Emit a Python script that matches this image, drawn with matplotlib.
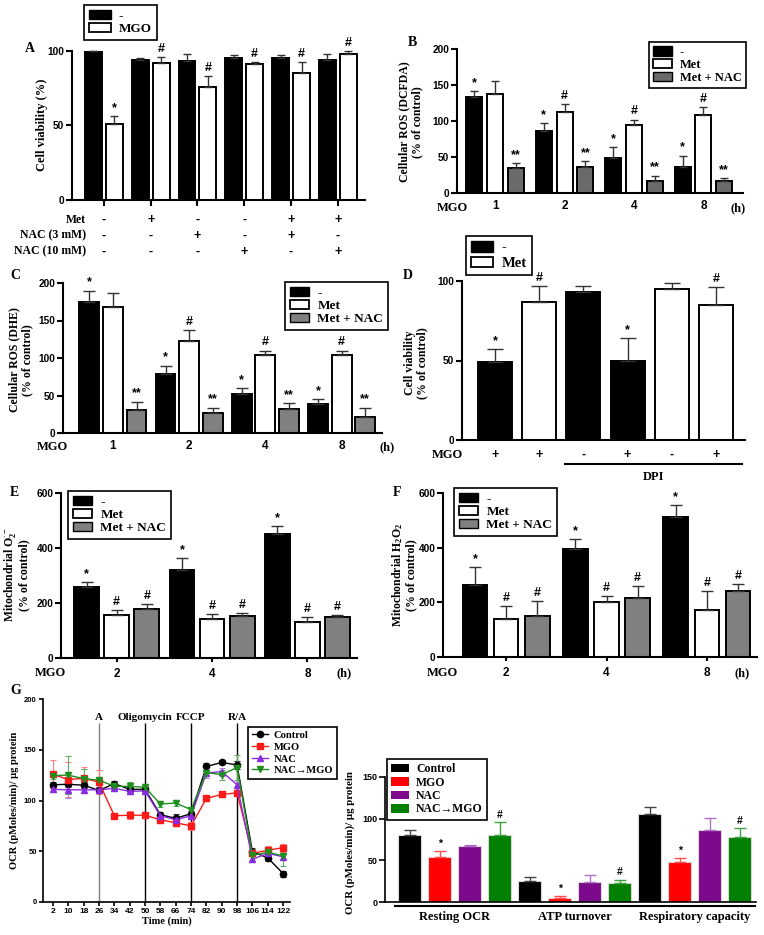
import numpy as np
import matplotlib
matplotlib.use('Agg')
import matplotlib.pyplot as plt
from matplotlib.patches import Patch
from matplotlib.lines import Line2D
import matplotlib.transforms as mtrans

SERIF = ['Liberation Serif', 'DejaVu Serif']
SANS = ['Liberation Sans', 'DejaVu Sans']
plt.rcParams['font.family'] = SERIF
plt.rcParams['font.weight'] = 'bold'
plt.rcParams['mathtext.fontset'] = 'custom'
plt.rcParams['mathtext.rm'] = 'Liberation Serif:bold'
plt.rcParams['mathtext.it'] = 'Liberation Serif:bold:italic'
plt.rcParams['mathtext.bf'] = 'Liberation Serif:bold'

# ---------------- data ----------------
# Panel A
a_ctrl = [100, 94, 93, 95, 95, 93.5]
a_ctrl_err = [0, 1, 4.5, 2, 2, 4.5]
a_mgo = [51, 92, 76, 91, 85, 98]
a_mgo_err = [5, 4, 7, 1.5, 7.5, 1.5]
a_mgo_sig = ['*', '#', '#', '#', '#', '#']
a_met = ['-', '+', '-', '-', '+', '+']
a_nac3 = ['-', '-', '+', '-', '+', '-']
a_nac10 = ['-', '-', '-', '+', '-', '+']

# Panel B
b_hours = ['1', '2', '4', '8']
b_ctrl = [134, 86, 49, 36]
b_ctrl_err = [8, 11, 15, 16]
b_met = [138, 112, 94, 109]
b_met_err = [17, 12, 8, 10]
b_nac = [35, 36, 16, 17]
b_nac_err = [6, 8, 8, 4]
b_sig_ctrl = ['*', '*', '*', '*']
b_sig_met = ['', '#', '#', '#']
b_sig_nac = ['**', '**', '**', '**']

# Panel C
c_hours = ['1', '2', '4', '8']
c_ctrl = [175, 79, 52, 39]
c_ctrl_err = [15, 11, 8, 6]
c_met = [168, 123, 104, 104]
c_met_err = [19, 14, 6, 6]
c_nac = [31, 27, 32, 22]
c_nac_err = [11, 7, 8, 12]
c_sig_ctrl = ['*', '*', '*', '*']
c_sig_met = ['', '#', '#', '#']
c_sig_nac = ['**', '**', '**', '**']

# Panel D
d_vals = [49, 87, 93, 50, 95, 85]
d_err = [8, 10, 4, 14, 4, 11]
d_is_met = [False, True, False, False, True, True]
d_mgo = ['+', '+', '-', '+', '-', '+']
d_sig = ['*', '#', '', '*', '', '#']

# Panel E
e_hours = ['2', '4', '8']
e_ctrl = [259, 319, 451]
e_ctrl_err = [16, 44, 29]
e_met = [157, 143, 131]
e_met_err = [17, 17, 17]
e_nac = [177, 152, 150]
e_nac_err = [18, 10, 6]

# Panel F
f_hours = ['2', '4', '8']
f_ctrl = [263, 395, 511]
f_ctrl_err = [66, 37, 45]
f_met = [139, 202, 172]
f_met_err = [49, 22, 69]
f_nac = [151, 217, 243]
f_nac_err = [54, 44, 23]

# Panel G (time course)
g_time = [2, 10, 18, 26, 34, 42, 50, 58, 66, 74, 82, 90, 98, 106, 114, 122]
g_control = [115.5, 116, 115, 110, 116.5, 111, 111, 86, 82.5, 87, 133.5, 137.5, 135, 49.5, 43.5, 28]
g_control_err = [3, 3, 3, 3, 3, 3, 3, 3, 4, 3, 3, 2, 4, 4, 3, 3]
g_mgo = [126, 120.5, 122, 118, 85, 85.5, 85.5, 81, 78, 75, 102, 106, 107.5, 48, 51, 53.5]
g_mgo_err = [14, 17, 11, 12, 3, 4, 3, 3, 3, 4, 2, 3, 3, 3, 4, 4]
g_nac = [111, 110.5, 110.5, 110.5, 112, 109, 109.5, 85, 81, 85, 127, 128.5, 115.5, 42, 48, 44.5]
g_nac_err = [3, 8, 3, 3, 3, 3, 3, 3, 3, 3, 5, 4, 5, 3, 3, 3]
g_nacmgo = [124.5, 125, 121.5, 120, 114, 114, 113, 96.5, 97.5, 91, 127.5, 125.5, 132.5, 46, 49, 45.5]
g_nacmgo_err = [3, 19, 10, 3, 3, 4, 3, 3, 3, 3, 3, 5, 12, 6, 4, 10]
g_inject_time = [26, 50, 74, 98]
g_inject_label = ['A', 'Oligomycin', 'FCCP', 'R/A']

# Panel G (summary bars)
gb_groups = ['Resting OCR', 'ATP turnover', 'Respiratory capacity']
gb_series = ['Control', 'MGO', 'NAC', 'NAC\u2192MGO']
gb_vals = [[81, 53.5, 67, 80],
           [25, 5, 24, 22.5],
           [106, 48.5, 86.5, 78.5]]
gb_errs = [[5.5, 8, 1, 16.5],
           [5.5, 2.8, 9, 4.5],
           [8, 4, 14, 10.5]]
gb_sig = [['', '*', '', '#'],
          ['', '*', '', '#'],
          ['', '*', '', '#']]

# ---------------- figure ----------------
W, H = 764, 935
fig = plt.figure(figsize=(W / 100, H / 100), dpi=100)


def axpx(l, t, r, b):
    return fig.add_axes([l / W, 1 - b / H, (r - l) / W, (b - t) / H])


def style(ax, fs=7.3, lw=1.5, tl=4, xfs=None):
    for s in ['top', 'right']:
        ax.spines[s].set_visible(False)
    for s in ['left', 'bottom']:
        ax.spines[s].set_linewidth(lw)
    ax.tick_params(axis='both', direction='out', width=lw, length=tl, labelsize=fs, pad=1.5)
    if xfs:
        ax.tick_params(axis='x', labelsize=xfs)
    for lbl in ax.get_xticklabels() + ax.get_yticklabels():
        lbl.set_fontfamily(SANS)
        lbl.set_fontweight('bold')


def bars(ax, x, vals, errs, width, color, capsize, ecolor='#333333', sigs=None, sigfs=9, edge='black', elw=1.0, blw=1.4):
    ax.bar(x, vals, width, color=color, edgecolor=edge, linewidth=blw, zorder=2)
    ax.errorbar(x, vals, yerr=[np.zeros(len(vals)), errs], fmt='none', ecolor=ecolor,
                elinewidth=elw, capsize=capsize, capthick=elw, zorder=3, clip_on=False)
    if sigs is not None:
        for xi, v, e, s in zip(x, vals, errs, sigs):
            if s:
                ax.annotate(s, (xi, v + e), xytext=(0, 1.5), textcoords='offset points',
                            ha='center', va='bottom', fontsize=sigfs, fontfamily=SANS,
                            fontweight='bold', annotation_clip=False)


def legend(ax, handles, labels, x, y, fs=7.5, ls=0.05, hl=1.5):
    lg = ax.legend(handles, labels, loc='upper left', bbox_to_anchor=(x / W, 1 - y / H),
                   bbox_transform=fig.transFigure, borderaxespad=0, fancybox=False,
                   framealpha=1, edgecolor='black', prop={'family': SERIF, 'weight': 'bold', 'size': fs},
                   handlelength=hl, handleheight=0.75, handletextpad=0.6, labelspacing=ls,
                   borderpad=0.35)
    lg.get_frame().set_linewidth(1.2)
    return lg


def letter(txt, x, y):
    fig.text(x / W, 1 - y / H, txt, fontsize=10, fontweight='bold', family=SERIF, ha='left', va='center')


def ylab(txt, x, y, fs=8.5, ls=1.05):
    fig.text(x / W, 1 - y / H, txt, rotation=90, fontsize=fs, fontweight='bold', family=SERIF,
             ha='center', va='center', multialignment='center', linespacing=ls)


def hour_axis(ax, labels, x_mgo, x_h, ylev):
    tr = mtrans.blended_transform_factory(ax.transData, ax.transAxes)
    ax.set_xticks(np.arange(len(labels)), labels)
    ax.text(x_mgo, ylev, 'MGO', transform=tr, ha='center', va='center', fontsize=9, fontweight='bold', family=SERIF)
    ax.text(x_h, ylev, '(h)', transform=tr, ha='center', va='center', fontsize=9, fontweight='bold', family=SERIF)


BLACK, WHITE = 'black', 'white'
GRAY_B = '#6a6a6a'
GRAY = '#808080'


def three_handles(gray):
    return [Patch(facecolor=BLACK, edgecolor='black'), Patch(facecolor=WHITE, edgecolor='black', linewidth=1.3),
            Patch(facecolor=gray, edgecolor='black')]


# ----- Panel A -----
ax = axpx(72, 50.7, 365, 200)
x = np.arange(len(a_ctrl))
bars(ax, x - 0.224, a_ctrl, a_ctrl_err, 0.36, BLACK, 3)
bars(ax, x + 0.224, a_mgo, a_mgo_err, 0.36, WHITE, 3, sigs=a_mgo_sig)
ax.set_xlim(-0.68, 5.58)
ax.set_ylim(0, 100)
ax.set_yticks([0, 50, 100])
ax.set_xticks(x, [''] * len(x))
style(ax)
tr = mtrans.blended_transform_factory(ax.transData, ax.transAxes)
for rowy, name, row in [(-0.134, 'Met', a_met), (-0.238, 'NAC (3 mM)', a_nac3), (-0.345, 'NAC (10 mM)', a_nac10)]:
    ax.text(-0.38, rowy, name, transform=tr, ha='right', va='center', fontsize=8.5, fontweight='bold', family=SERIF)
    for xi, s in zip(x, row):
        ax.text(xi, rowy, s, transform=tr, ha='center', va='center', fontsize=9, fontweight='bold', family=SANS)
legend(ax, [Patch(facecolor=BLACK, edgecolor='black'), Patch(facecolor=WHITE, edgecolor='black', linewidth=1.3)],
       ['-', 'MGO'], 84, 5, fs=9.5, hl=1.7)
letter('A', 25, 49)
ylab('Cell viability (%)', 42, 125, fs=9)

# ----- Panel B -----
ax = axpx(457, 49, 743, 193)
x = np.arange(len(b_hours))
bars(ax, x - 0.30, b_ctrl, b_ctrl_err, 0.23, BLACK, 3, sigs=b_sig_ctrl)
bars(ax, x, b_met, b_met_err, 0.23, WHITE, 3, sigs=b_sig_met)
bars(ax, x + 0.30, b_nac, b_nac_err, 0.23, GRAY_B, 3, sigs=b_sig_nac)
ax.set_xlim(-0.55, 3.57)
ax.set_ylim(0, 200)
ax.set_yticks([0, 50, 100, 150, 200])
hour_axis(ax, b_hours, -0.62, 3.5, -0.105)
style(ax, xfs=8.5)
ax.tick_params(axis='x', length=0, pad=5)
legend(ax, three_handles(GRAY_B), ['-', 'Met', 'Met + NAC'], 649, 42, fs=9)
letter('B', 408, 43)
ylab('Cellular ROS (DCFDA)\n(% of control)', 411, 122)

# ----- Panel C -----
ax = axpx(63, 283, 382, 433)
x = np.arange(len(c_hours))
bars(ax, x - 0.31, c_ctrl, c_ctrl_err, 0.26, BLACK, 4.5, sigs=c_sig_ctrl)
bars(ax, x, c_met, c_met_err, 0.26, WHITE, 4.5, sigs=c_sig_met)
bars(ax, x + 0.31, c_nac, c_nac_err, 0.26, GRAY, 4.5, sigs=c_sig_nac)
ax.set_xlim(-0.655, 3.53)
ax.set_ylim(0, 200)
ax.set_yticks([0, 50, 100, 150, 200])
hour_axis(ax, c_hours, -0.79, 3.6, -0.095)
style(ax, xfs=8.5)
ax.tick_params(axis='x', length=0, pad=5)
legend(ax, three_handles(GRAY), ['-', 'Met', 'Met + NAC'], 285, 282, fs=9.5)
letter('C', 10, 275)
ylab('Cellular ROS (DHE)\n(% of control)', 21, 360)

# ----- Panel D -----
ax = axpx(462, 281, 745, 440)
x = np.arange(len(d_vals))
cols = [WHITE if m else BLACK for m in d_is_met]
bars(ax, x, d_vals, d_err, 0.77, cols, 6, sigs=d_sig)
ax.set_xlim(-0.75, 5.66)
ax.set_ylim(0, 100)
ax.set_yticks([0, 50, 100])
ax.set_xticks([])
style(ax)
tr = mtrans.blended_transform_factory(ax.transData, ax.transAxes)
for xi, s in zip(x, d_mgo):
    ax.text(xi, -0.094, s, transform=tr, ha='center', va='center', fontsize=9, fontweight='bold', family=SANS)
ax.text(-1.09, -0.094, 'MGO', transform=tr, ha='center', va='center', fontsize=9, fontweight='bold', family=SERIF)
ax.plot([1.58, 5.59], [-0.151, -0.151], transform=tr, color='black', lw=1.5, clip_on=False)
ax.text(3.58, -0.233, 'DPI', transform=tr, ha='center', va='center', fontsize=9, fontweight='bold', family=SERIF)
legend(ax, [Patch(facecolor=BLACK, edgecolor='black'), Patch(facecolor=WHITE, edgecolor='black', linewidth=1.3)],
       ['-', 'Met'], 466, 236, fs=10.5, ls=0.15)
letter('D', 403, 275)
ylab('Cell viability\n(% of control)', 416, 363)

# ----- Panel E -----
ax = axpx(61, 493, 357, 658)
x = np.arange(len(e_hours))
bars(ax, x - 0.315, e_ctrl, e_ctrl_err, 0.26, BLACK, 4.5, sigs=['*'] * 3)
bars(ax, x, e_met, e_met_err, 0.26, WHITE, 4.5, sigs=['#'] * 3)
bars(ax, x + 0.315, e_nac, e_nac_err, 0.26, GRAY, 4.5, sigs=['#'] * 3)
ax.set_xlim(-0.585, 2.52)
ax.set_ylim(0, 600)
ax.set_yticks([0, 200, 400, 600])
hour_axis(ax, e_hours, -0.70, 2.38, -0.092)
style(ax, xfs=8.5)
ax.tick_params(axis='x', length=3, pad=4)
legend(ax, three_handles(GRAY), ['-', 'Met', 'Met + NAC'], 68, 491, fs=9.5)
letter('E', 10, 493)
ylab('Mitochondrial O$_2^{\\cdot -}$\n(% of control)', 16, 575, ls=1.0)

# ----- Panel F -----
ax = axpx(443, 493, 757, 657)
x = np.arange(len(f_hours))
bars(ax, x - 0.31, f_ctrl, f_ctrl_err, 0.245, BLACK, 4.5, sigs=['*'] * 3)
bars(ax, x, f_met, f_met_err, 0.245, WHITE, 4.5, sigs=['#'] * 3)
bars(ax, x + 0.31, f_nac, f_nac_err, 0.245, GRAY, 4.5, sigs=['#'] * 3)
ax.set_xlim(-0.63, 2.5)
ax.set_ylim(0, 600)
ax.set_yticks([0, 200, 400, 600])
hour_axis(ax, f_hours, -0.64, 2.35, -0.098)
style(ax, xfs=8.5)
ax.tick_params(axis='x', length=3, pad=4)
legend(ax, three_handles(GRAY), ['-', 'Met', 'Met + NAC'], 454, 488, fs=9.5)
letter('F', 393, 493)
ylab('Mitochondrial H$_2$O$_2$\n(% of control)', 404, 575, ls=1.0)

# ----- Panel G (time course) -----
ax = axpx(43, 699, 290, 902)
series = [(g_control, g_control_err, 'black', 'o', 'Control', '#333333'),
          (g_mgo, g_mgo_err, '#ff1a1a', 's', 'MGO', '#ff8080'),
          (g_nac, g_nac_err, '#8a2be2', '^', 'NAC', '#b080e0'),
          (g_nacmgo, g_nacmgo_err, '#1f8f1f', 'v', 'NAC\u2192MGO', '#60b060')]
ax.vlines(g_inject_time, 0, 176, colors=['#808080', 'black', 'black', 'black'], linewidth=1.0, zorder=1)
for t, lab in zip(g_inject_time, g_inject_label):
    ax.text(t, 177, lab, ha='center', va='bottom', fontsize=8, fontweight='bold', family=SERIF)
handles = []
for vals, err, col, mk, lab, ec in series:
    ax.errorbar(g_time, vals, yerr=err, fmt='none', ecolor=ec, elinewidth=0.8, capsize=2.5, capthick=0.8, zorder=2)
    ax.plot(g_time, vals, color=col, marker=mk, markersize=4.5, linewidth=1.0, zorder=3)
    handles.append(Line2D([], [], color=col, marker=mk, markersize=4.5, linewidth=1.0))
ax.set_xlim(-3.2, 125.6)
ax.set_ylim(0, 200)
ax.set_xticks(g_time)
ax.set_yticks([0, 50, 100, 150, 200])
style(ax, fs=5.5, lw=1.2, tl=3)
ax.tick_params(axis='x', labelsize=6)
ax.set_xlabel('Time (min)', fontsize=7.5, fontweight='bold', family=SERIF, labelpad=1)
legend(ax, handles, [s[4] for s in series], 248, 727, fs=7.6, ls=0.2, hl=1.5)
letter('G', 10, 690)
ylab('OCR (pMoles/min)/ \u00b5g protein', 14, 800, fs=7.6)

# ----- Panel G (summary bars) -----
ax = axpx(385, 777, 756, 902)
gb_colors = ['black', '#ff0000', '#7d0a8c', '#008000']
gb_ecolors = ['#444444', '#ff5050', '#b070c8', '#40a040']
for gi in range(len(gb_groups)):
    for si in range(len(gb_series)):
        xi = gi * len(gb_series) + si
        bars(ax, [xi], [gb_vals[gi][si]], [gb_errs[gi][si]], 0.77, gb_colors[si], 4,
             ecolor=gb_ecolors[si], sigs=[gb_sig[gi][si]], sigfs=7.5, edge='#d8d8d8', blw=0.8)
ax.set_xlim(-0.82, 11.55)
ax.set_ylim(0, 150)
ax.set_yticks([0, 50, 100, 150])
ax.set_xticks([])
style(ax, fs=6.5, lw=1.2, tl=4)
tr = mtrans.blended_transform_factory(ax.transData, ax.transAxes)
for gi, g in enumerate(gb_groups):
    x0 = gi * len(gb_series)
    ax.plot([x0 - 0.48, x0 + 3.5], [-0.032, -0.032], transform=tr, color='black', lw=1.5, clip_on=False)
    ax.text(x0 + 1.5, -0.12, g, transform=tr, ha='center', va='center', fontsize=9, fontweight='bold', family=SERIF)
legend(ax, [Patch(facecolor=c, edgecolor='none') for c in gb_colors], gb_series, 387, 759, fs=8.5, ls=0.12)
ylab('OCR (pMoles/min)/ \u00b5g protein', 350, 843, fs=7.8)

fig.savefig('out.png', dpi=100)
